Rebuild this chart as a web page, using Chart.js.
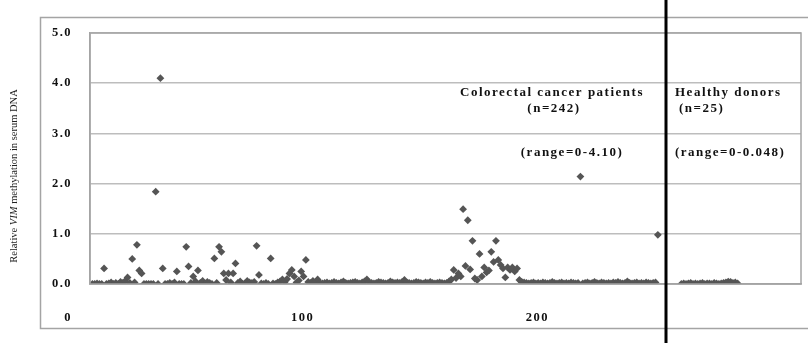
<!DOCTYPE html>
<html>
<head>
<meta charset="utf-8">
<script src="https://cdn.jsdelivr.net/npm/chart.js@4"></script>
<style>
  html, body { margin: 0; padding: 0; background: #fff; }
</style>
</head>
<body>
<canvas id="chart" width="808" height="343"></canvas>
<script>
// Relative VIM methylation, one value per subject (index = subject number)
const cancerValues = [
  0, 0, 0.01, 0, 0, 0.31, 0, 0.01, 0.03, 0,
  0.02, 0, 0.04, 0.02, 0.06, 0.13, 0.02, 0.50, 0.03, 0.78,
  0.27, 0.21, 0, 0, 0, 0, 0, 1.84, 0, 4.10,
  0.31, 0, 0, 0.02, 0, 0.03, 0.25, 0, 0, 0,
  0.74, 0.35, 0.02, 0.15, 0.05, 0.27, 0.02, 0.06, 0.01, 0.04,
  0.02, 0, 0.51, 0.02, 0.74, 0.64, 0.21, 0.08, 0.21, 0.03,
  0.21, 0.41, 0.02, 0.05, 0, 0.01, 0.06, 0.03, 0.02, 0.04,
  0.76, 0.18, 0.01, 0, 0.02, 0, 0.51, 0.01, 0, 0.03,
  0.05, 0.09, 0.04, 0.10, 0.21, 0.28, 0.15, 0.03, 0.07, 0.25,
  0.15, 0.48, 0.04, 0.02, 0.06, 0.03, 0.09, 0.02, 0.01, 0.02,
  0.03, 0.01, 0.02, 0.04, 0.02, 0.01, 0.03, 0.05, 0.02, 0.01,
  0.02, 0.03, 0.04, 0.02, 0.01, 0.03, 0.05, 0.09, 0.03, 0.02,
  0.01, 0.02, 0.04, 0.03, 0.02, 0.01, 0.02, 0.05, 0.03, 0.02,
  0.03, 0.02, 0.04, 0.08, 0.03, 0.02, 0.01, 0.02, 0.04, 0.03,
  0.02, 0.01, 0.03, 0.02, 0.04, 0.02, 0.01, 0.02, 0.03, 0.02,
  0.01, 0.02, 0.05, 0.09, 0.28, 0.12, 0.21, 0.15, 1.49, 0.36,
  1.27, 0.29, 0.86, 0.11, 0.08, 0.60, 0.15, 0.33, 0.23, 0.27,
  0.64, 0.44, 0.86, 0.48, 0.38, 0.31, 0.13, 0.33, 0.28, 0.33,
  0.25, 0.31, 0.08, 0.04, 0.03, 0.02, 0.01, 0.02, 0.03, 0.01,
  0.02, 0.01, 0.03, 0.02, 0.01, 0.02, 0.04, 0.02, 0.01, 0.02,
  0.03, 0.01, 0.02, 0.01, 0.03, 0.02, 0.01, 0.02, 2.14, 0.01,
  0.02, 0.03, 0.01, 0.02, 0.04, 0.02, 0.01, 0.03, 0.02, 0.01,
  0.02, 0.01, 0.03, 0.02, 0.04, 0.02, 0.01, 0.02, 0.05, 0.02,
  0.01, 0.02, 0.03, 0.01, 0.02, 0.01, 0.03, 0.02, 0.01, 0.02,
  0.03, 0.98
];
const healthyValues = [
  0, 0.01, 0, 0.01, 0.02, 0, 0.01, 0, 0.01, 0.02,
  0, 0.01, 0.01, 0, 0.02, 0.01, 0, 0.01, 0.02, 0.03,
  0.048, 0.04, 0.02, 0.03, 0.01
];
const healthyStart = 252;   // first healthy donor on the x axis
const groupSplit = 245.5;   // black divider between the groups
const xTicks = [0, 100, 200];
const yTicks = [0, 1, 2, 3, 4, 5];

const cancerPoints = cancerValues.map((v, i) => ({ x: i + 1, y: v }));
const healthyPoints = healthyValues.map((v, i) => ({ x: healthyStart + i, y: v }));

const serif = '"Liberation Serif", "DejaVu Serif", serif';

// frame, plot border, divider, notes and y title
const decorations = {
  id: 'decorations',
  beforeDraw(chart) {
    const ctx = chart.ctx;
    ctx.save();
    ctx.fillStyle = '#fff';
    ctx.fillRect(0, 0, chart.width, chart.height);
    ctx.strokeStyle = '#a4a4a4';
    ctx.lineWidth = 1.5;
    ctx.strokeRect(40.5, 17.5, 800, 311);
    ctx.restore();
    ctx.letterSpacing = '1.5px';
  },
  afterDraw(chart) {
    const ctx = chart.ctx;
    const area = chart.chartArea;
    const xs = chart.scales.x;
    ctx.save();
    ctx.strokeStyle = '#a4a4a4';
    ctx.lineWidth = 1.5;
    ctx.strokeRect(area.left, area.top, area.right - area.left, area.bottom - area.top);

    const xd = Math.round(xs.getPixelForValue(groupSplit));
    ctx.strokeStyle = '#000';
    ctx.lineWidth = 3;
    ctx.beginPath();
    ctx.moveTo(xd, 0);
    ctx.lineTo(xd, chart.height);
    ctx.stroke();

    ctx.fillStyle = '#111';
    ctx.font = 'bold 13px ' + serif;
    ctx.letterSpacing = '1.5px';
    ctx.textBaseline = 'middle';
    const notes = [
      ['Colorectal cancer patients', 552, 93, 'center'],
      ['(n=242)', 554, 109, 'center'],
      ['(range=0-4.10)', 572, 153, 'center'],
      ['Healthy donors', 675, 93, 'left'],
      ['(n=25)', 679, 109, 'left'],
      ['(range=0-0.048)', 675, 153, 'left']
    ];
    notes.forEach(([t, x, y, align]) => {
      ctx.textAlign = align;
      ctx.fillText(t, x, y);
    });

    // y axis title with italic gene name
    ctx.letterSpacing = '0px';
    ctx.translate(14, 176);
    ctx.rotate(-Math.PI / 2);
    ctx.textAlign = 'left';
    ctx.fillStyle = '#222';
    const parts = [['Relative ', ''], ['VIM', 'italic '], [' methylation in serum DNA', '']];
    let total = 0;
    parts.forEach(p => {
      ctx.font = p[1] + '10.5px ' + serif;
      total += ctx.measureText(p[0]).width;
    });
    let cx = -total / 2;
    parts.forEach(p => {
      ctx.font = p[1] + '10.5px ' + serif;
      ctx.fillText(p[0], cx, 0);
      cx += ctx.measureText(p[0]).width;
    });
    ctx.restore();
    ctx.letterSpacing = '0px';
  }
};

const ctx = document.getElementById('chart').getContext('2d');
new Chart(ctx, {
  type: 'scatter',
  data: {
    datasets: [
      {
        label: 'Colorectal cancer patients',
        data: cancerPoints,
        pointStyle: 'rectRot',
        pointRadius: 3.9,
        backgroundColor: '#555',
        borderWidth: 0
      },
      {
        label: 'Healthy donors',
        data: healthyPoints,
        pointStyle: 'rectRot',
        pointRadius: 3.9,
        backgroundColor: '#555',
        borderWidth: 0
      }
    ]
  },
  options: {
    responsive: false,
    animation: false,
    layout: { padding: { left: 0, right: 7, top: 33, bottom: 0 } },
    plugins: {
      legend: { display: false },
      tooltip: { enabled: false }
    },
    scales: {
      x: {
        type: 'linear',
        min: 0,
        max: 303,
        grid: { display: false },
        border: { display: true, color: '#a4a4a4', width: 1.5 },
        afterBuildTicks: scale => { scale.ticks = xTicks.map(v => ({ value: v })); },
        afterFit: scale => { scale.height = 59; },
        ticks: {
          autoSkip: false,
          maxRotation: 0,
          padding: 18,
          labelOffset: -22,
          color: '#111',
          font: { family: serif, size: 12.5, weight: 'bold' }
        }
      },
      y: {
        min: 0,
        max: 5,
        afterBuildTicks: scale => { scale.ticks = yTicks.map(v => ({ value: v })); },
        afterFit: scale => { scale.width = 90; },
        grid: { color: '#bdbdbd', lineWidth: 1.5, drawTicks: false },
        border: { display: true, color: '#a4a4a4', width: 1.5 },
        ticks: {
          padding: 18,
          color: '#111',
          font: { family: serif, size: 12.5, weight: 'bold' },
          callback: v => v.toFixed(1)
        }
      }
    }
  },
  plugins: [decorations]
});
</script>
</body>
</html>
